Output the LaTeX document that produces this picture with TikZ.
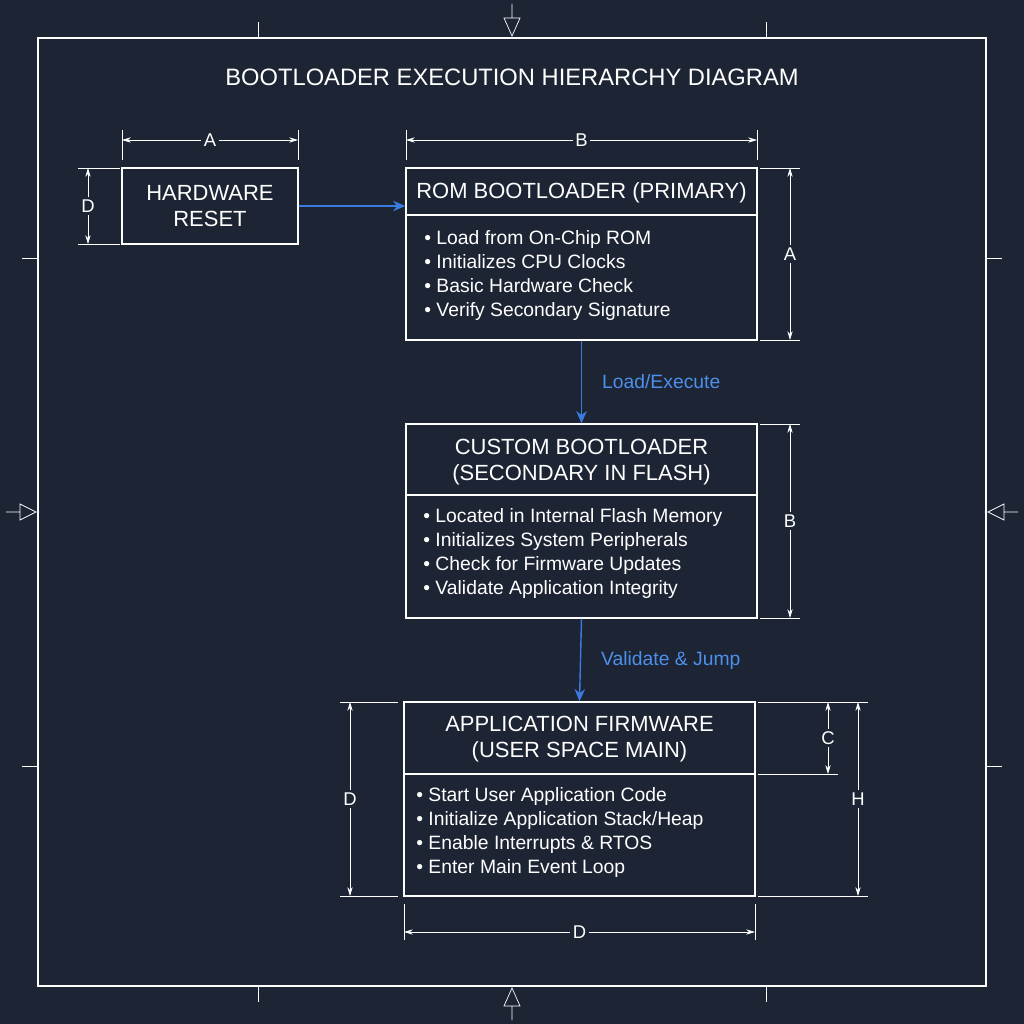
\documentclass[tikz,border=0pt]{standalone}
\usepackage{fontspec}
\setmainfont{Liberation Sans}
\usetikzlibrary{arrows.meta}
\definecolor{bgnavy}{HTML}{1D2433}
\definecolor{flowblue}{HTML}{3A7BE0}
\definecolor{labelblue}{HTML}{4C90EC}
\tikzset{
  blok/.style={draw=white,thick,rectangle,inner sep=0pt},
  titel/.style={white,align=center,font=\fontsize{12.5}{14.5}\selectfont},
  puces/.style={white,align=left,anchor=north west,inner sep=0pt,font=\fontsize{11}{13.6}\selectfont},
  flux/.style={flowblue,thick,-{Stealth[length=7pt,width=6pt]}},
  cote/.style={white,thin,{Stealth[length=5pt,width=3pt]}-{Stealth[length=5pt,width=3pt]}},
  attache/.style={white,thin},
  lettre/.style={white,fill=bgnavy,inner sep=1.5pt,font=\fontsize{10.5}{12}\selectfont},
  repere/.style={white,thin}
}
\begin{document}
\begin{tikzpicture}[x=0.02cm,y=-0.02cm]
\fill[bgnavy] (0,0) rectangle (1024,1024);
\useasboundingbox (0,0) rectangle (1024,1024);
%cadre
\draw[white,semithick] (38,38) rectangle (986,986);
\foreach \p in {258,766}{
  \draw[repere] (\p,22)--(\p,38); \draw[repere] (\p,986)--(\p,1002);
  \draw[repere] (22,\p)--(38,\p); \draw[repere] (986,\p)--(1002,\p);}
%reperes de centrage
\draw[repere] (512,4)--(512,18) (504,18)--(520,18)--(512,36)--cycle;
\draw[repere] (512,1020)--(512,1006) (504,1006)--(520,1006)--(512,988)--cycle;
\draw[repere] (6,512)--(20,512) (20,504)--(20,520)--(36,512)--cycle;
\draw[repere] (1018,512)--(1004,512) (1004,504)--(1004,520)--(988,512)--cycle;

\node[white,font=\fontsize{13.5}{16}\selectfont] (titre) at (512,77) {BOOTLOADER EXECUTION HIERARCHY DIAGRAM};

%blocs
\node[blok,minimum width=3.52cm,minimum height=1.52cm] (hw) at (210,206) {};
\node[titel] (hwtxt) at (hw) {HARDWARE\\RESET};

\node[blok,minimum width=7.02cm,minimum height=3.44cm] (rom) at (581.5,254) {};
\draw[white,thick] (406,215)--(757,215);
\node[titel] (romtxt) at (581.5,193) {ROM BOOTLOADER (PRIMARY)};
\node[puces] (romlist) at (424,230) {• Load from On-Chip ROM\\• Initializes CPU Clocks\\• Basic Hardware Check\\• Verify Secondary Signature};

\node[blok,minimum width=7.02cm,minimum height=3.88cm] (cust) at (581.5,521) {};
\draw[white,thick] (406,495)--(757,495);
\node[titel] (custtxt) at (581.5,462) {CUSTOM BOOTLOADER\\(SECONDARY IN FLASH)};
\node[puces] (custlist) at (423,508) {• Located in Internal Flash Memory\\• Initializes System Peripherals\\• Check for Firmware Updates\\• Validate Application Integrity};

\node[blok,minimum width=7.02cm,minimum height=3.88cm] (app) at (579.5,799) {};
\draw[white,thick] (404,774)--(755,774);
\node[titel] (apptxt) at (579.5,739) {APPLICATION FIRMWARE\\(USER SPACE MAIN)};
\node[puces] (applist) at (416,787) {• Start User Application Code\\• Initialize Application Stack/Heap\\• Enable Interrupts \& RTOS\\• Enter Main Event Loop};

%fleches
\draw[flux] (hw.east) -- (hw.east -| rom.west);
\draw[flux] (rom.south) -- (cust.north) node[midway,right=8pt,labelblue,font=\fontsize{11}{13}\selectfont] {Load/Execute};
\draw[flux] (cust.south) -- (app.north) node[midway,right=8pt,labelblue,font=\fontsize{11}{13}\selectfont] {Validate \& Jump};

%cotes
\draw[attache] (122,130)--(122,160) (298,130)--(298,160) (406,130)--(406,160) (757,130)--(757,160);
\draw[cote] (122,140)--(298,140) node[midway,lettre] {A};
\draw[cote] (406,140)--(757,140) node[midway,lettre] {B};
\draw[attache] (78,168)--(120,168) (78,244)--(120,244);
\draw[cote] (88,168)--(88,244) node[midway,lettre] {D};
\draw[attache] (760,168)--(800,168) (760,340)--(800,340);
\draw[cote] (790,168)--(790,340) node[midway,lettre] {A};
\draw[attache] (760,424)--(800,424) (760,618)--(800,618);
\draw[cote] (790,424)--(790,618) node[midway,lettre] {B};
\draw[attache] (340,702)--(398,702) (340,896)--(398,896);
\draw[cote] (350,702)--(350,896) node[midway,lettre] {D};
\draw[attache] (758,702)--(868,702) (758,774)--(838,774) (758,896)--(868,896);
\draw[cote] (828,702)--(828,774) node[midway,lettre] {C};
\draw[cote] (858,702)--(858,896) node[midway,lettre] {H};
\draw[attache] (404,904)--(404,940) (755,904)--(755,940);
\draw[cote] (404,932)--(755,932) node[midway,lettre] {D};
\end{tikzpicture}
\end{document}
